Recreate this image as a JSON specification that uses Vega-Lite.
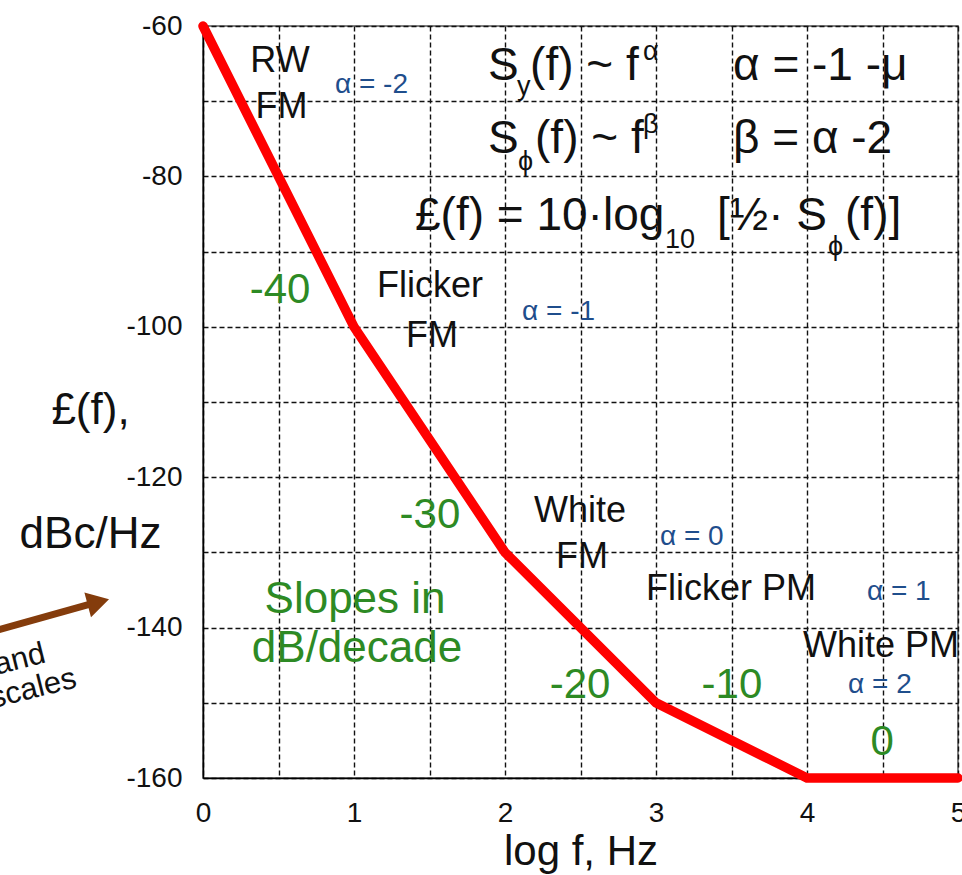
{
  "$schema": "https://vega.github.io/schema/vega-lite/v6.json",
  "width": 755,
  "height": 752,
  "autosize": {"type": "none"},
  "padding": {"left": 203, "top": 26, "right": 4, "bottom": 97},
  "background": "white",
  "config": {
    "view": {"stroke": "#555555", "strokeWidth": 1.5},
    "font": "Liberation Sans"
  },
  "datasets": {
    "curve": [
      {"logf": 0, "L": -60},
      {"logf": 1, "L": -100},
      {"logf": 2, "L": -130},
      {"logf": 3, "L": -150},
      {"logf": 4, "L": -160},
      {"logf": 5, "L": -160}
    ],
    "regimes": [
      {"logf": 0.51, "L": -66.1, "label": "RW"},
      {"logf": 0.52, "L": -72.2, "label": "FM"},
      {"logf": 1.503, "L": -96.0, "label": "Flicker"},
      {"logf": 1.517, "L": -102.7, "label": "FM"},
      {"logf": 2.497, "L": -126.0, "label": "White"},
      {"logf": 2.51, "L": -132.1, "label": "FM"},
      {"logf": 3.497, "L": -136.3, "label": "Flicker PM"},
      {"logf": 4.49, "L": -143.9, "label": "White PM"}
    ],
    "slopes": [
      {"logf": 0.51, "L": -96.8, "label": "-40"},
      {"logf": 1.503, "L": -126.8, "label": "-30"},
      {"logf": 2.497, "L": -149.4, "label": "-20"},
      {"logf": 3.503, "L": -149.4, "label": "-10"},
      {"logf": 4.497, "L": -156.9, "label": "0"}
    ],
    "slopenote": [
      {"logf": 1.007, "L": -138.1, "label": "Slopes in"},
      {"logf": 1.02, "L": -144.6, "label": "dB/decade"}
    ],
    "alphas": [
      {"logf": 0.874, "L": -68.9, "label": "α = -2"},
      {"logf": 2.113, "L": -99.1, "label": "α = -1"},
      {"logf": 3.026, "L": -129.0, "label": "α = 0"},
      {"logf": 4.397, "L": -136.3, "label": "α = 1"},
      {"logf": 4.272, "L": -148.7, "label": "α = 2"}
    ],
    "formula": [
      {"logf": 1.887, "L": -67.2, "label": "S"},
      {"logf": 2.166, "L": -67.2, "label": "(f) ~ f"},
      {"logf": 3.51, "L": -67.2, "label": "α = -1 -μ"},
      {"logf": 1.887, "L": -76.9, "label": "S"},
      {"logf": 2.199, "L": -76.9, "label": "(f) ~ f"},
      {"logf": 3.51, "L": -76.9, "label": "β = α -2"},
      {"logf": 1.404, "L": -87.1, "label": "£(f) = 10·log"},
      {"logf": 3.404, "L": -87.1, "label": "[½· S"},
      {"logf": 4.252, "L": -87.1, "label": "(f)]"}
    ],
    "formulasmall": [
      {"logf": 2.079, "L": -69.2, "label": "y"},
      {"logf": 2.914, "L": -64.5, "label": "α"},
      {"logf": 2.086, "L": -79.1, "label": "ϕ"},
      {"logf": 2.914, "L": -74.2, "label": "β"},
      {"logf": 3.06, "L": -89.5, "label": "10"},
      {"logf": 4.139, "L": -90.5, "label": "ϕ"}
    ],
    "arrow": [
      {"logf": -1.41, "L": -140.6, "logf2": -0.70, "L2": -136.6}
    ],
    "arrowhead": [
      {"logf": -0.693, "L": -136.6}
    ],
    "sidenote": [
      {"logf": -1.033, "L": -144.6, "label": "and"},
      {"logf": -0.828, "L": -147.9, "label": "scales"}
    ]
  },
  "layer": [
    {
      "data": {"name": "curve"},
      "mark": {"type": "line", "color": "#ff0000", "strokeWidth": 9.5, "strokeCap": "round", "strokeJoin": "miter"},
      "encoding": {
        "x": {
          "field": "logf",
          "type": "quantitative",
          "scale": {"domain": [0, 5], "nice": false, "zero": false},
          "axis": {
            "values": [0, 0.5, 1, 1.5, 2, 2.5, 3, 3.5, 4, 4.5, 5],
            "labelExpr": "datum.value % 1 === 0 ? format(datum.value, 'd') : ''",
            "labelOverlap": false,
            "labelFlush": false,
            "grid": true,
            "gridColor": "#111111",
            "gridDash": [5, 3],
            "gridWidth": 1.4,
            "ticks": false,
            "tickSize": 0,
            "domainColor": "#000000",
            "domainWidth": 1.5,
            "labelFont": "Liberation Sans",
            "labelFontSize": 28,
            "labelColor": "#111111",
            "labelPadding": 21,
            "title": "log f, Hz",
            "titleFont": "Liberation Sans",
            "titleFontSize": 42,
            "titleFontWeight": "normal",
            "titleColor": "#111111",
            "titleY": 86,
            "titleBaseline": "alphabetic"
          }
        },
        "y": {
          "field": "L",
          "type": "quantitative",
          "scale": {"domain": [-160, -60], "nice": false, "zero": false},
          "axis": {
            "values": [-160, -150, -140, -130, -120, -110, -100, -90, -80, -70, -60],
            "labelExpr": "datum.value % 20 === 0 ? '-' + abs(datum.value) : ''",
            "labelOverlap": false,
            "labelFlush": false,
            "grid": true,
            "gridColor": "#111111",
            "gridDash": [5, 3],
            "gridWidth": 1.4,
            "ticks": false,
            "tickSize": 0,
            "domainColor": "#000000",
            "domainWidth": 1.5,
            "labelFont": "Liberation Sans",
            "labelFontSize": 28,
            "labelColor": "#111111",
            "labelPadding": 21,
            "title": ["£(f),", "dBc/Hz"],
            "titleFont": "Liberation Sans",
            "titleFontSize": 44,
            "titleFontWeight": "normal",
            "titleColor": "#111111",
            "titleAngle": 0,
            "titleAlign": "center",
            "titleBaseline": "alphabetic",
            "titleLineHeight": 124,
            "titleX": -113,
            "titleY": 397
          }
        }
      }
    },
    {
      "data": {"name": "regimes"},
      "mark": {"type": "text", "fontSize": 36, "color": "#111111", "align": "center", "baseline": "alphabetic", "font": "Liberation Sans"},
      "encoding": {
        "x": {"field": "logf", "type": "quantitative"},
        "y": {"field": "L", "type": "quantitative"},
        "text": {"field": "label"}
      }
    },
    {
      "data": {"name": "slopes"},
      "mark": {"type": "text", "fontSize": 42, "color": "#2d8a24", "align": "center", "baseline": "alphabetic", "font": "Liberation Sans"},
      "encoding": {
        "x": {"field": "logf", "type": "quantitative"},
        "y": {"field": "L", "type": "quantitative"},
        "text": {"field": "label"}
      }
    },
    {
      "data": {"name": "slopenote"},
      "mark": {"type": "text", "fontSize": 44, "color": "#2d8a24", "align": "center", "baseline": "alphabetic", "font": "Liberation Sans"},
      "encoding": {
        "x": {"field": "logf", "type": "quantitative"},
        "y": {"field": "L", "type": "quantitative"},
        "text": {"field": "label"}
      }
    },
    {
      "data": {"name": "alphas"},
      "mark": {"type": "text", "fontSize": 28, "color": "#1f4e8c", "align": "left", "baseline": "alphabetic", "font": "Liberation Sans"},
      "encoding": {
        "x": {"field": "logf", "type": "quantitative"},
        "y": {"field": "L", "type": "quantitative"},
        "text": {"field": "label"}
      }
    },
    {
      "data": {"name": "formula"},
      "mark": {"type": "text", "fontSize": 46, "color": "#111111", "align": "left", "baseline": "alphabetic", "font": "Liberation Sans"},
      "encoding": {
        "x": {"field": "logf", "type": "quantitative"},
        "y": {"field": "L", "type": "quantitative"},
        "text": {"field": "label"}
      }
    },
    {
      "data": {"name": "formulasmall"},
      "mark": {"type": "text", "fontSize": 27, "color": "#111111", "align": "left", "baseline": "alphabetic", "font": "Liberation Sans"},
      "encoding": {
        "x": {"field": "logf", "type": "quantitative"},
        "y": {"field": "L", "type": "quantitative"},
        "text": {"field": "label"}
      }
    },
    {
      "data": {"name": "arrow"},
      "mark": {"type": "rule", "color": "#843c0c", "strokeWidth": 7},
      "encoding": {
        "x": {"field": "logf", "type": "quantitative"},
        "y": {"field": "L", "type": "quantitative"},
        "x2": {"field": "logf2"},
        "y2": {"field": "L2"}
      }
    },
    {
      "data": {"name": "arrowhead"},
      "mark": {"type": "point", "shape": "triangle-right", "size": 650, "angle": -15, "filled": true, "color": "#843c0c", "opacity": 1},
      "encoding": {
        "x": {"field": "logf", "type": "quantitative"},
        "y": {"field": "L", "type": "quantitative"}
      }
    },
    {
      "data": {"name": "sidenote"},
      "mark": {"type": "text", "fontSize": 31, "color": "#111111", "align": "right", "baseline": "alphabetic", "angle": -14, "font": "Liberation Sans"},
      "encoding": {
        "x": {"field": "logf", "type": "quantitative"},
        "y": {"field": "L", "type": "quantitative"},
        "text": {"field": "label"}
      }
    }
  ]
}
